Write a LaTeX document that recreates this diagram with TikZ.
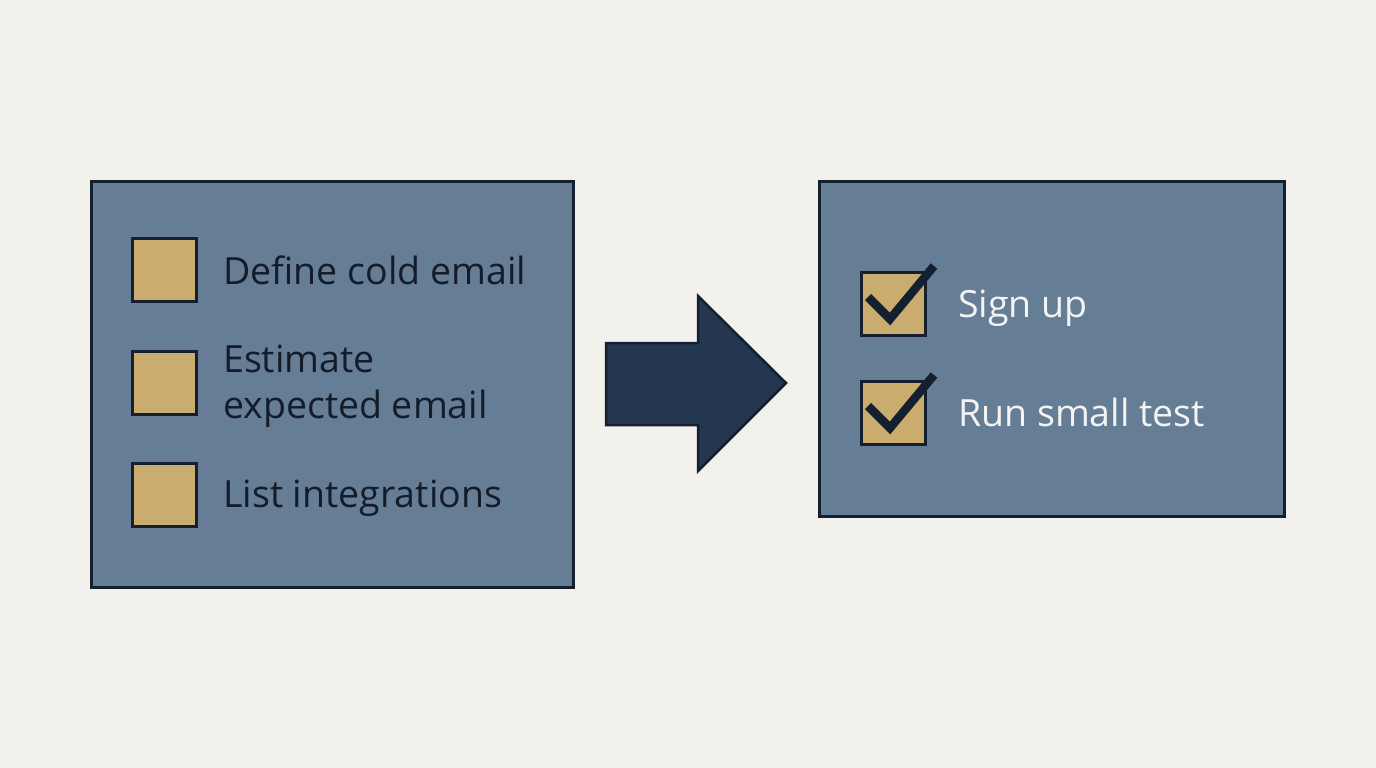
\documentclass[tikz,border=0pt]{standalone}
\usepackage{fontspec}
\setmainfont{Open Sans}
\definecolor{bg}{HTML}{F3F1EC}
\definecolor{panel}{HTML}{667D96}
\definecolor{edge}{HTML}{142030}
\definecolor{gold}{HTML}{C9AC6E}
\definecolor{arrowc}{HTML}{243750}
\definecolor{darktext}{HTML}{131C28}
\definecolor{lighttext}{HTML}{F4F4F4}
\tikzset{
  panelbox/.style={draw=edge, line width=3pt, fill=panel},
  chk/.style={draw=edge, line width=3pt, fill=gold, minimum width=64pt, minimum height=63pt, inner sep=0pt},
  lbl/.style={anchor=base west, inner sep=0pt, font=\fontsize{37.5}{45}\selectfont},
  tick/.style={draw=edge, line width=8.5pt, line cap=butt, line join=miter}
}
\begin{document}
\begin{tikzpicture}[x=1pt,y=-1pt]
\useasboundingbox (0,0) rectangle (1376,768);
\fill[bg] (0,0) rectangle (1376,768);
% left panel
\draw[panelbox] (91,181) rectangle (573,587);
\node[chk] (c1) at (164,269.5) {};
\node[chk] (c2) at (164,382.5) {};
\node[chk] (c3) at (164,494.5) {};
\node[lbl, text=darktext] (t1) at (223,284) {Define cold email};
\node[lbl, text=darktext] (t2a) at (223,372) {Estimate};
\node[lbl, text=darktext] (t2b) at (223,418) {expected email};
\node[lbl, text=darktext] (t3) at (223,507) {List integrations};
% arrow
\draw[draw=edge, line width=2.5pt, fill=arrowc, line join=miter]
  (606,343) -- (698,343) -- (698,296) -- (786,383) -- (698,471) -- (698,425) -- (606,425) -- cycle;
% right panel
\draw[panelbox] (819,181) rectangle (1284,516);
\node[chk] (d1) at (893.5,304) {};
\node[chk] (d2) at (893.5,413) {};
\draw[tick] (868,297) -- (890,319) -- (934,266);
\draw[tick] (868,406) -- (890,428) -- (934,375);
\node[lbl, text=lighttext] (s1) at (958,317) {Sign up};
\node[lbl, text=lighttext] (s2) at (958,426) {Run small test};
\end{tikzpicture}
\end{document}
